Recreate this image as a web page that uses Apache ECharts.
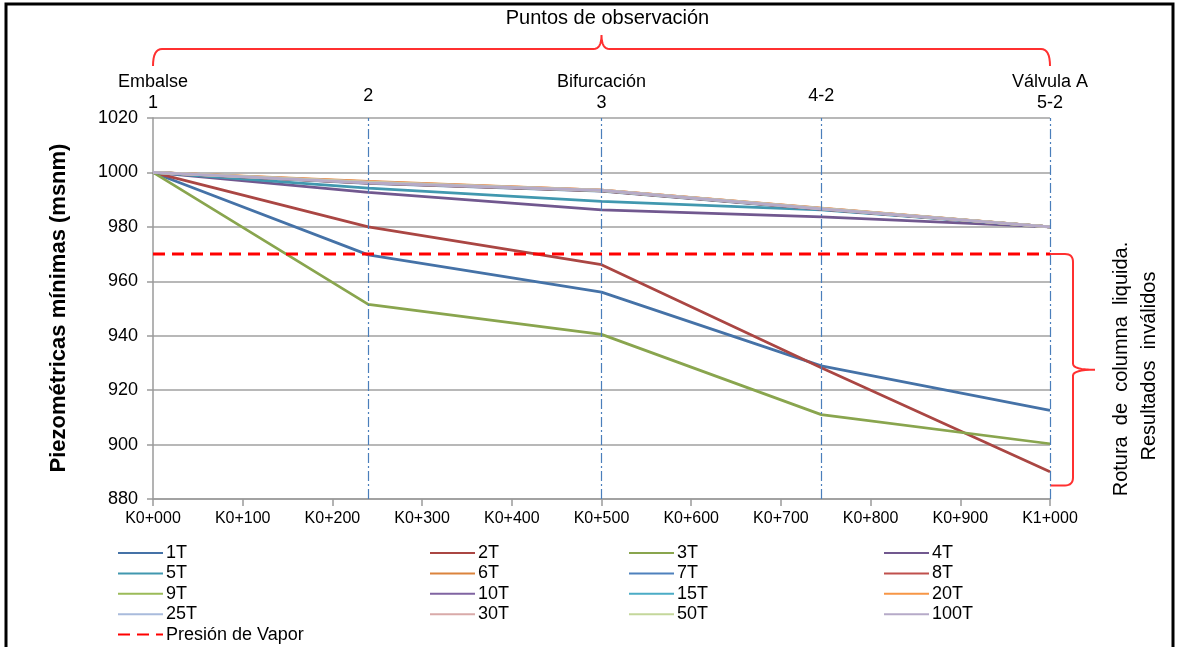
<!DOCTYPE html>
<html>
<head>
<meta charset="utf-8">
<script src="https://cdn.jsdelivr.net/npm/echarts@6/dist/echarts.min.js"></script>
<style>
html,body{margin:0;padding:0;background:#fff;}
#chart{width:1179px;height:647px;}
</style>
</head>
<body>
<div id="chart"></div>
<script>
// Observation points (chainage, m) and labels
const obsX = [0, 240, 500, 745, 1000];
const obsLabels = ['Embalse\n1', '2', 'Bifurcación\n3', '4-2', 'Válvula A\n5-2'];
const xTickLabels = ['K0+000','K0+100','K0+200','K0+300','K0+400','K0+500','K0+600','K0+700','K0+800','K0+900','K1+000'];
const yTicks = [880, 900, 920, 940, 960, 980, 1000, 1020];

// Minimum piezometric heads (msnm) at each observation point
const s1T   = [1000, 969.7, 956.0, 928.9, 912.6];
const s2T   = [1000, 980.0, 966.1, 928.2, 890.0];
const s3T   = [1000, 951.5, 940.5, 911.0, 900.3];
const s4T   = [1000, 992.7, 986.2, 983.7, 980.0];
const s5T   = [1000, 994.2, 989.4, 986.2, 980.0];
const s6T   = [1000, 996.7, 993.5, 986.9, 980.0];
const s7T   = [1000, 996.0, 993.1, 986.4, 980.0];
const s8T   = [1000, 996.1, 993.2, 986.5, 980.0];
const s9T   = [1000, 996.2, 993.3, 986.6, 980.0];
const s10T  = [1000, 996.2, 993.3, 986.6, 980.0];
const s15T  = [1000, 996.3, 993.4, 986.7, 980.0];
const s20T  = [1000, 996.5, 993.5, 986.8, 980.0];
const s25T  = [1000, 996.3, 993.4, 986.7, 980.0];
const s30T  = [1000, 996.4, 993.5, 986.8, 980.0];
const s50T  = [1000, 996.3, 993.4, 986.7, 980.0];
const s100T = [1000, 996.2, 993.4, 986.6, 980.0];
const vaporX = [0, 1000];
const vaporY = [970, 970];

const seriesNames  = ['1T','2T','3T','4T','5T','6T','7T','8T','9T','10T','15T','20T','25T','30T','50T','100T'];
const seriesValues = [s1T,s2T,s3T,s4T,s5T,s6T,s7T,s8T,s9T,s10T,s15T,s20T,s25T,s30T,s50T,s100T];
const seriesColors = ['#4572A7','#AA4643','#89A54E','#71588F','#4198AF','#DB843D','#4F81BD','#C0504D',
                      '#9BBB59','#8064A2','#4BACC6','#F79646','#A9BBDC','#D9AAA9','#C4D79B','#B6AAC8'];

const FONT = '"Liberation Sans", Arial, sans-serif';

const chart = echarts.init(document.getElementById('chart'), null, {renderer: 'canvas'});

const series = seriesNames.map((name, i) => {
  const s = {
    name: name,
    type: 'line',
    data: obsX.map((x, k) => [x, seriesValues[i][k]]),
    symbol: 'none',
    color: seriesColors[i],
    lineStyle: {color: seriesColors[i], width: 2.75},
    z: 3,
    silent: true,
    animation: false
  };
  if (i === 0) {
    s.markLine = {
      silent: true,
      symbol: ['none', 'none'],
      animation: false,
      lineStyle: {color: '#4A7EBB', width: 1.2, type: [10, 3, 2, 3]},
      label: {show: true, position: 'end', color: '#000', fontSize: 18, lineHeight: 21, fontFamily: FONT},
      data: obsX.map((x, k) => {
        const item = {xAxis: x, label: {formatter: obsLabels[k], distance: obsLabels[k].indexOf('\n') >= 0 ? 4 : 11}};
        if (k === 0) item.lineStyle = {color: 'rgba(0,0,0,0)', width: 0};
        return item;
      })
    };
  }
  return s;
});

series.push({
  name: 'Presión de Vapor',
  type: 'line',
  data: vaporX.map((x, k) => [x, vaporY[k]]),
  symbol: 'none',
  color: '#FF0000',
  lineStyle: {color: '#FF0000', width: 3, type: [12, 7]},
  z: 5,
  silent: true,
  animation: false
});

const legendCols = [
  ['1T','5T','9T','25T','Presión de Vapor'],
  ['2T','6T','10T','30T'],
  ['3T','7T','15T','50T'],
  ['4T','8T','20T','100T']
];
const legendLeft = [117, 429, 628, 883];

const option = {
  backgroundColor: '#fff',
  animation: false,
  textStyle: {fontFamily: FONT},
  grid: {left: 153, right: 129, top: 118, bottom: 148, containLabel: false},
  xAxis: {
    type: 'value', min: 0, max: 1000, interval: 100,
    axisLine: {show: true, lineStyle: {color: '#9a9a9a', width: 1.5}},
    axisTick: {show: true, length: 7, lineStyle: {color: '#9a9a9a', width: 1.5}},
    axisLabel: {color: '#000', fontSize: 16, margin: 12, fontFamily: FONT,
      formatter: v => xTickLabels[Math.round(v / 100)]},
    splitLine: {show: false}
  },
  yAxis: {
    type: 'value', min: yTicks[0], max: yTicks[yTicks.length - 1], interval: 20,
    axisLine: {show: true, lineStyle: {color: '#9a9a9a', width: 1.5}},
    axisTick: {show: true, length: 6, lineStyle: {color: '#9a9a9a', width: 1.5}},
    axisLabel: {color: '#000', fontSize: 18, margin: 15, fontFamily: FONT, formatter: v => String(v)},
    splitLine: {show: true, lineStyle: {color: '#a0a0a0', width: 1.5}}
  },
  legend: legendCols.map((cols, i) => ({
    orient: 'vertical',
    left: legendLeft[i],
    top: 544,
    height: 130,
    padding: 0,
    itemWidth: 45,
    itemHeight: 14,
    itemGap: 2.4,
    selectedMode: false,
    itemStyle: {opacity: 0},
    textStyle: {color: '#000', fontSize: 18, fontFamily: FONT, padding: [0, 0, 0, -2]},
    data: cols
  })),
  series: series
};
chart.setOption(option);

// Annotations positioned from the axes
const px = v => chart.convertToPixel({xAxisIndex: 0}, v);
const py = v => chart.convertToPixel({yAxisIndex: 0}, v);

function quad(p0, c, p1) {
  const pts = [];
  for (let t = 0; t <= 1.0001; t += 0.125) {
    const a = (1 - t) * (1 - t), b = 2 * (1 - t) * t, d = t * t;
    pts.push([a * p0[0] + b * c[0] + d * p1[0], a * p0[1] + b * c[1] + d * p1[1]]);
  }
  return pts;
}

const xl = px(0), xr = px(1000), xm = (xl + xr) / 2;
const yb = 49;
const topBrace = [].concat(
  quad([xl, 66], [xl, yb], [xl + 9, yb]),
  quad([xm - 8, yb], [xm, yb], [xm, yb - 14]),
  quad([xm, yb - 14], [xm, yb], [xm + 8, yb]),
  quad([xr - 9, yb], [xr, yb], [xr, 66])
);
const y1 = py(970), y2 = py(885), ym = (y1 + y2) / 2;
const xb = xr + 23;
const rightBrace = [].concat(
  [[xr, y1]],
  quad([xb - 8, y1], [xb, y1], [xb, y1 + 8]),
  quad([xb, ym - 6], [xb, ym], [xb + 22, ym]),
  quad([xb + 22, ym], [xb, ym], [xb, ym + 6]),
  quad([xb, y2 - 8], [xb, y2], [xb - 8, y2]),
  [[xr, y2]]
);

chart.setOption({
  graphic: [
    {type: 'rect', shape: {x: 6, y: 4, width: 1167, height: 670}, style: {fill: 'none', stroke: '#000', lineWidth: 3}, silent: true, z: 100},
    {type: 'text', x: xm + 6, y: 18, style: {text: 'Puntos de observación', font: '20px ' + FONT, fill: '#000', align: 'center', verticalAlign: 'middle'}, silent: true},
    {type: 'polyline', shape: {points: topBrace}, style: {fill: 'none', stroke: '#FF3030', lineWidth: 2}, silent: true},
    {type: 'polyline', shape: {points: rightBrace}, style: {fill: 'none', stroke: '#FF3030', lineWidth: 2}, silent: true},
    {type: 'text', x: 59, y: 308, rotation: Math.PI / 2, style: {text: 'Piezométricas mínimas (msnm)', font: 'bold 22px ' + FONT, fill: '#000', align: 'center', verticalAlign: 'middle'}, silent: true},
    {type: 'text', x: 1121, y: 369, rotation: Math.PI / 2, style: {text: 'Rotura  de  columna  liquida.', font: '20px ' + FONT, fill: '#000', align: 'center', verticalAlign: 'middle'}, silent: true},
    {type: 'text', x: 1149, y: 366, rotation: Math.PI / 2, style: {text: 'Resultados  inválidos', font: '20px ' + FONT, fill: '#000', align: 'center', verticalAlign: 'middle'}, silent: true}
  ]
});
</script>
</body>
</html>
